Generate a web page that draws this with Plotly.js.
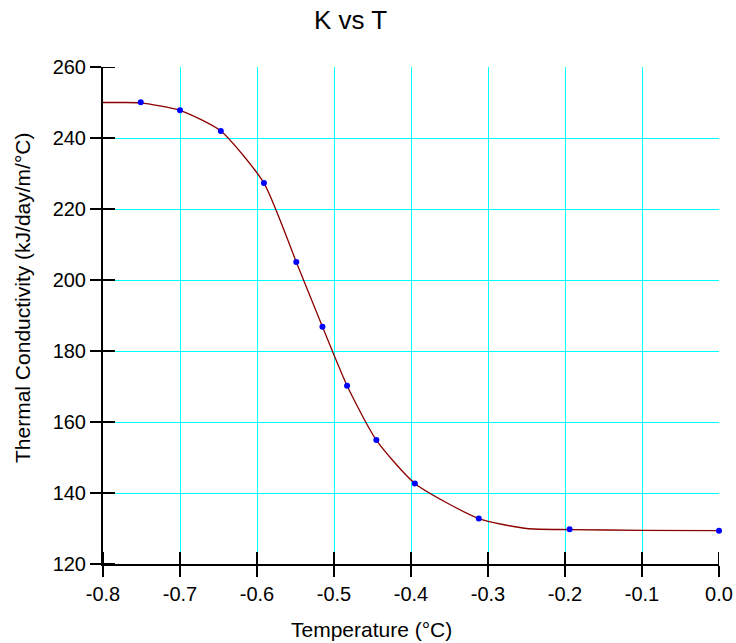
<!DOCTYPE html>
<html>
<head>
<meta charset="utf-8">
<script src="https://cdn.plot.ly/plotly-3.0.1.min.js"></script>
<style>html,body{margin:0;padding:0;background:#fff;}#chart{width:736px;height:643px;}</style>
</head>
<body>
<div id="chart"></div>
<script>
// Measured data points
var temperature = [-0.751, -0.700, -0.647, -0.591, -0.549, -0.515, -0.483, -0.445, -0.395, -0.312, -0.194, 0.0];
var conductivity = [250.1, 247.8, 242.0, 227.3, 205.1, 186.8, 170.2, 154.9, 142.7, 132.8, 129.8, 129.4];
// Fitted curve (starts flat at the left edge)
var curveT = [-0.800, -0.775, -0.751, -0.700, -0.647, -0.591, -0.549, -0.515, -0.483, -0.445, -0.395, -0.312, -0.250, -0.194, -0.100, 0.0];
var curveK = [250.0, 250.0, 249.9, 247.8, 242.0, 227.3, 205.1, 186.8, 170.2, 154.9, 142.7, 132.8, 130.0, 129.7, 129.5, 129.4];
var xTicks = [-0.8, -0.7, -0.6, -0.5, -0.4, -0.3, -0.2, -0.1, 0.0];
var xTickText = ['-0.8', '-0.7', '-0.6', '-0.5', '-0.4', '-0.3', '-0.2', '-0.1', '0.0'];
var yTicks = [120, 140, 160, 180, 200, 220, 240, 260];

var FONT = 'Liberation Sans, Arial, Helvetica, sans-serif';
var L = 103, R = 17, T = 67, B = 79, W = 736, H = 643;
var pw = W - L - R, ph = H - T - B;
function px(p) { return (p - L) / pw; }
function py(q) { return (H - B - q) / ph; }

var traces = [
  { x: curveT, y: curveK, type: 'scatter', mode: 'lines',
    line: { color: '#8B0000', width: 1.3, shape: 'spline', smoothing: 0.6 },
    hoverinfo: 'skip', showlegend: false },
  { x: temperature, y: conductivity, type: 'scatter', mode: 'markers',
    marker: { color: '#0000FF', size: 6 }, showlegend: false, cliponaxis: false }
];

// Inner halves of the cross-shaped tick marks, placed on the axis scales
var innerLen = 12;
var tickShapes = [];
xTicks.forEach(function (v) {
  tickShapes.push({ type: 'line', xref: 'x', yref: 'paper', x0: v, x1: v, y0: 0, y1: innerLen / ph,
    line: { color: '#000', width: 2 }, layer: 'above' });
});
yTicks.forEach(function (v) {
  tickShapes.push({ type: 'line', xref: 'paper', yref: 'y', x0: 0, x1: innerLen / pw, y0: v, y1: v,
    line: { color: '#000', width: 2 }, layer: 'above' });
});

var axCommon = { showline: true, linecolor: '#000', linewidth: 2, zeroline: false,
  tickcolor: '#000', tickwidth: 2, tickfont: { family: FONT, size: 20, color: '#000' } };

var layout = {
  width: W, height: H,
  margin: { l: L, r: R, t: T, b: B, pad: 0 },
  paper_bgcolor: '#fff', plot_bgcolor: '#fff',
  showlegend: false,
  xaxis: Object.assign({}, axCommon, {
    range: [-0.8, 0.0], tickmode: 'array', tickvals: xTicks, ticktext: xTickText,
    ticks: 'outside', ticklen: 11, showgrid: true, gridcolor: '#00FFFF', gridwidth: 1
  }),
  yaxis: Object.assign({}, axCommon, {
    range: [120, 260], tickmode: 'array', tickvals: yTicks,
    ticks: 'outside', ticklen: 11, showgrid: true, gridcolor: '#00FFFF', gridwidth: 1
  }),
  shapes: tickShapes,
  annotations: [
    { text: 'K vs T', xref: 'paper', yref: 'paper', x: px(350), y: py(20),
      xanchor: 'center', yanchor: 'middle', showarrow: false,
      font: { family: FONT, size: 26, color: '#000' } },
    { text: 'Temperature (°C)', xref: 'paper', yref: 'paper', x: px(371), y: py(629),
      xanchor: 'center', yanchor: 'middle', showarrow: false,
      font: { family: FONT, size: 21, color: '#000' } },
    { text: 'Thermal Conductivity (kJ/day/m/°C)', xref: 'paper', yref: 'paper', x: px(22), y: py(298),
      xanchor: 'center', yanchor: 'middle', showarrow: false, textangle: -90,
      font: { family: FONT, size: 21, color: '#000' } }
  ]
};

Plotly.newPlot('chart', traces, layout, { displayModeBar: false, staticPlot: true });
</script>
</body>
</html>
